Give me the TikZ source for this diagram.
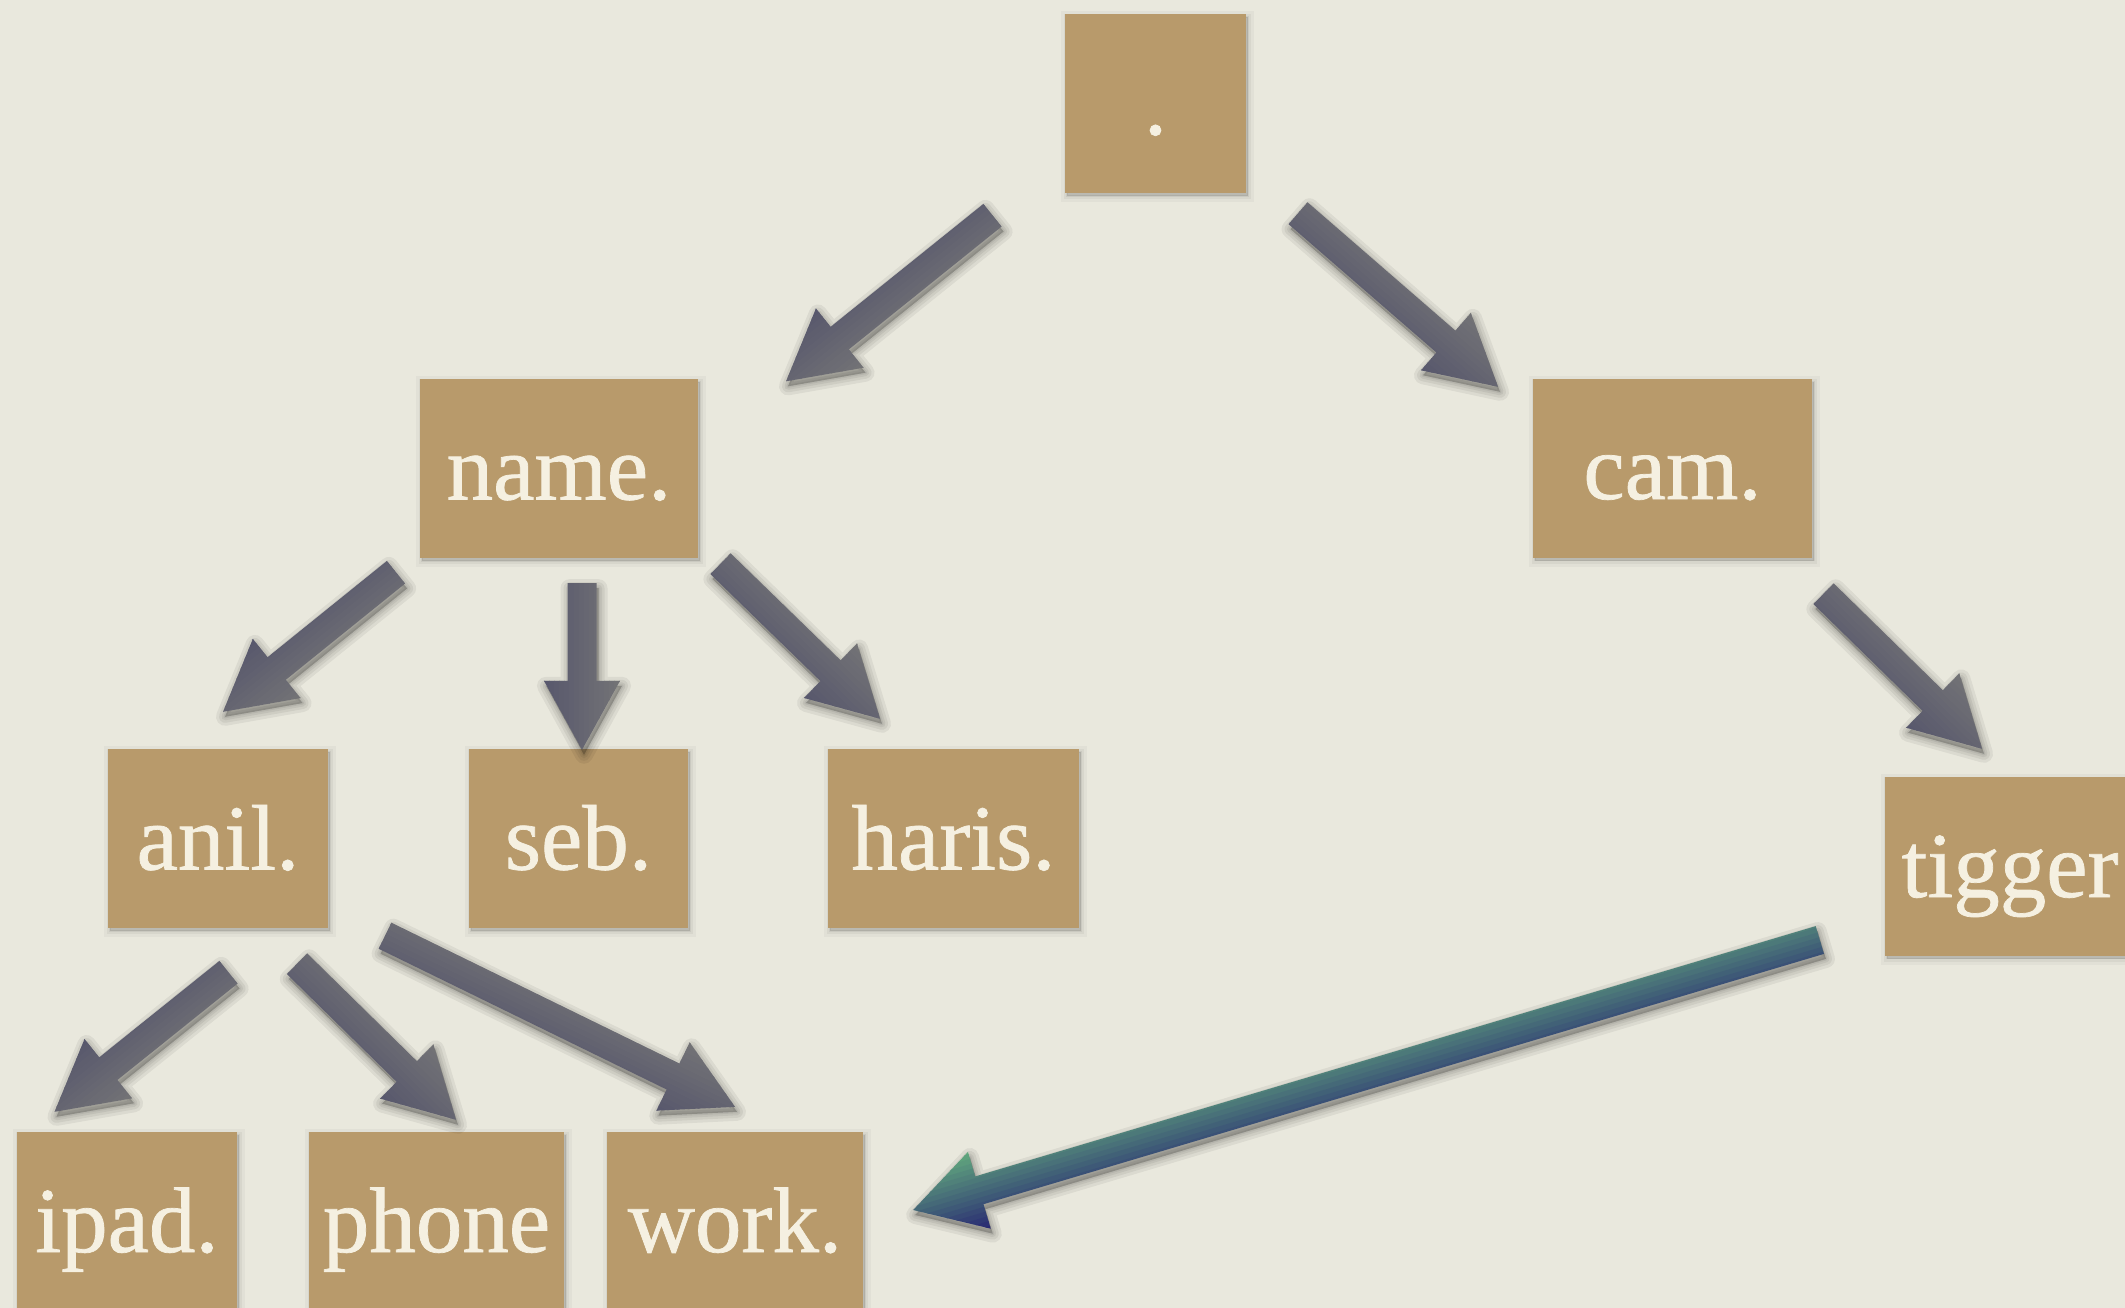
\documentclass[tikz,border=0pt]{standalone}
\usepackage{fontspec}
\setmainfont{Liberation Serif}
\newfontfamily\cardfont{Liberation Serif}[FakeBold=0.8]
\usetikzlibrary{calc,shadows}

\definecolor{paper}{HTML}{E9E8DD}
\definecolor{kraft}{HTML}{B89A6B}
\definecolor{cream}{HTML}{F5F0E1}
\definecolor{slateA}{RGB}{86,86,108}
\definecolor{slateB}{RGB}{116,116,118}
\definecolor{leaf}{RGB}{98,170,126}
\definecolor{ink}{RGB}{40,40,114}

% Fat block arrow from #1 (tail) to #2 (tip); the body is shaded across
% its width from colour #3 to colour #4; #5 is half the head width.
\newcommand\fatarrow[5]{%
  \coordinate (bt) at (#1);
  \coordinate (bh) at (#2);
  \coordinate (bb) at ($(bh)!69pt!(bt)$);
  \coordinate (q1) at ($(bt)!14.5pt!90:(bh)$);
  \coordinate (q2) at ($(bb)!14.5pt!90:(bh)$);
  \coordinate (q3) at ($(bb)!#5!90:(bh)$);
  \coordinate (q4) at ($(bb)!#5!-90:(bh)$);
  \coordinate (q5) at ($(bb)!14.5pt!-90:(bh)$);
  \coordinate (q6) at ($(bt)!14.5pt!-90:(bh)$);
  % soft drop shadow
  \begin{scope}[transform canvas={shift={(2,5)}}]
    \foreach \lw in {18,12,7,3}
      \filldraw[black, opacity=.06, line width=\lw pt, line join=round]
        (q1) -- (q2) -- (q3) -- (bh) -- (q4) -- (q5) -- (q6) -- cycle;
  \end{scope}
  % body, shaded across its width
  \begin{scope}
    \clip (q1) -- (q2) -- (q3) -- (bh) -- (q4) -- (q5) -- (q6) -- cycle;
    \foreach \k in {0,...,16} {
      \pgfmathsetmacro\off{-40+5*\k}
      \pgfmathsetmacro\pct{100*\k/16}
      \draw[line width=5.6pt, line cap=rect, #4!\pct!#3]
        ($(bt)!\off pt!90:(bh)$) -- ($(bh)!\off pt!-90:(bt)$);
    }
  \end{scope}
}

\begin{document}
\begin{tikzpicture}[x=1pt, y=-1pt,
  card/.style={rectangle, fill=kraft, inner sep=0pt,
    minimum height=179pt, text height=62pt, text depth=0pt,
    text=cream, font=\cardfont\fontsize{93}{93}\selectfont,
    general shadow={fill=black, draw=black, line width=12pt, opacity=.03,
      shadow xshift=2pt, shadow yshift=-3pt},
    general shadow={fill=black, draw=black, line width=6pt, opacity=.045,
      shadow xshift=2pt, shadow yshift=-3pt},
    general shadow={fill=black, draw=black, line width=1.5pt, opacity=.06,
      shadow xshift=2pt, shadow yshift=-3pt}}]

\useasboundingbox (0,0) rectangle (2125,1308);
\clip (0,0) rectangle (2125,1308);
\fill[paper] (0,0) rectangle (2125,1308);

% domain labels
\node[card, minimum width=181pt] (root)   at (1155.5,103.5) {.};
\node[card, minimum width=278pt] (name)   at (559,468.5)    {name.};
\node[card, minimum width=279pt] (cam)    at (1672.5,468)   {cam.};
\node[card, minimum width=220pt] (anil)   at (218,838.5)    {anil.};
\node[card, minimum width=219pt] (seb)    at (578.5,838.5)  {seb.};
\node[card, minimum width=251pt] (haris)  at (953.5,838.5)  {haris.};
\node[card, minimum width=250pt] (tigger) at (2010,866)     {tigger};
\node[card, minimum width=220pt] (ipad)   at (127,1221)     {ipad.};
\node[card, minimum width=255pt] (phone)  at (436.5,1221)   {phone};
\node[card, minimum width=256pt] (work)   at (735,1221)     {work.};

% arrow ends
\coordinate (rn-s) at ($(root.south)+(-163,22)$);
\coordinate (rn-e) at ($(name.north)+(227,2.5)$);
\coordinate (rc-s) at ($(root.south)+(142.5,20)$);
\coordinate (rc-e) at ($(cam.north)+(-174.5,8.5)$);
\coordinate (na-s) at ($(name.south)+(-163,14)$);
\coordinate (na-e) at ($(anil.north)+(5,-37)$);
\coordinate (ns-s) at ($(name.south)+(23,25)$);
\coordinate (ns-e) at ($(seb.north)+(3.5,1)$);
\coordinate (nh-s) at ($(name.south)+(161.5,5.5)$);
\coordinate (nh-e) at ($(haris.north)+(-73.5,-30)$);
\coordinate (ct-s) at ($(cam.south)+(151,36)$);
\coordinate (ct-e) at ($(tigger.north)+(-28,-27.5)$);
\coordinate (ai-s) at ($(anil.south)+(10.5,44)$);
\coordinate (ai-e) at ($(ipad.north)+(-72.5,-19.5)$);
\coordinate (ap-s) at ($(anil.south)+(79,35.5)$);
\coordinate (ap-e) at ($(phone.north)+(19.5,-11.5)$);
\coordinate (aw-s) at ($(anil.south)+(167,7.5)$);
\coordinate (aw-e) at ($(work.north)+(0,-24.5)$);
\coordinate (tw-s) at ($(tigger.west)+(-65,74)$);
\coordinate (tw-e) at ($(work.east)+(50,-11)$);

% arrows
\fatarrow{rn-s}{rn-e}{slateA}{slateB}{38pt}
\fatarrow{rc-s}{rc-e}{slateA}{slateB}{38pt}
\fatarrow{na-s}{na-e}{slateA}{slateB}{38pt}
\fatarrow{ns-s}{ns-e}{slateA}{slateB}{38pt}
\fatarrow{nh-s}{nh-e}{slateA}{slateB}{38pt}
\fatarrow{ct-s}{ct-e}{slateA}{slateB}{38pt}
\fatarrow{ai-s}{ai-e}{slateA}{slateB}{38pt}
\fatarrow{ap-s}{ap-e}{slateA}{slateB}{38pt}
\fatarrow{aw-s}{aw-e}{slateA}{slateB}{38pt}
\fatarrow{tw-s}{tw-e}{leaf}{ink}{40pt}

\end{tikzpicture}
\end{document}
